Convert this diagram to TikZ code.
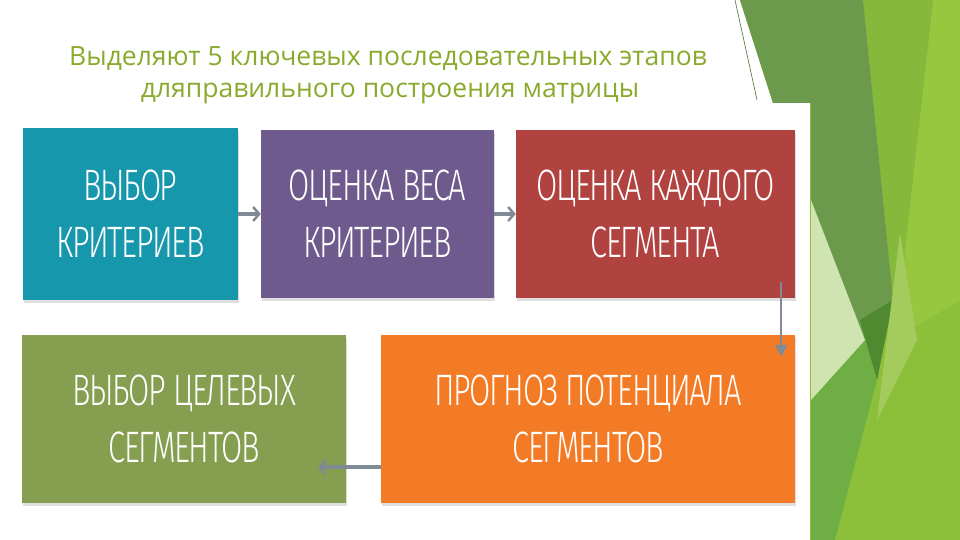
\documentclass[tikz,border=0pt]{standalone}
\usepackage{fontspec}
\usetikzlibrary{arrows.meta,calc,shadows}
\IfFontExistsTF{Fira Sans Light}
  {\newfontfamily\boxfont[FakeStretch=0.70,LetterSpace=-3]{Fira Sans Light}\newcommand\boxsize{\fontsize{44}{57}}}
  {\newfontfamily\boxfont[FakeStretch=0.59]{Liberation Sans}\newcommand\boxsize{\fontsize{42}{57}}}
\newfontfamily\titlefont{Open Sans}
\definecolor{ttl}{HTML}{8AAA2E}
\definecolor{cteal}{HTML}{1797AC}
\definecolor{cpurple}{HTML}{6E5A8C}
\definecolor{cred}{HTML}{B0433F}
\definecolor{corange}{HTML}{F47B25}
\definecolor{colive}{HTML}{869E50}
\definecolor{carrow}{HTML}{7F8A96}
\definecolor{gdark}{HTML}{6B9A4C}
\definecolor{gmid}{HTML}{86B83B}
\definecolor{gbright}{HTML}{97C63F}
\definecolor{gbase}{HTML}{8DC03A}
\definecolor{gpale}{HTML}{D0E4B2}
\definecolor{gpale2}{HTML}{A3CB5E}
\definecolor{glow}{HTML}{6EAE45}
\definecolor{gdeep}{HTML}{4F8A31}
\tikzset{
  stage/.style={inner sep=0pt, text=white, align=center,
    font=\boxfont\boxsize\selectfont,
    drop shadow={shadow xshift=0.5pt, shadow yshift=-3pt, opacity=0.25}},
  ttltext/.style={text=ttl, inner sep=0pt, anchor=base,
    font=\titlefont\fontsize{26.5}{32}\selectfont},
  arr/.style={draw=carrow, line width=3.5pt,
    -{Straight Barb[length=6pt,width=14pt,line width=2.5pt]}},
  arrv/.style={draw=carrow, line width=2.5pt,
    -{Triangle[length=12pt,width=12pt]}}
}
\begin{document}
\begin{tikzpicture}[x=1pt,y=-1pt]
\useasboundingbox (0,0) rectangle (960,540);
\fill[white] (0,0) rectangle (960,540);
% green decoration
\fill[gbase] (740,0) -- (960,0) -- (960,540) -- (810,540) -- (810,103) -- (773,103) -- cycle;
\fill[gbright] (933,0) -- (960,0) -- (960,300) -- (910,330) -- (905,250) -- cycle;
\fill[gmid] (863,0) -- (933,0) -- (905,250) -- (893,300) -- cycle;
\fill[gdark] (740,0) -- (863,0) -- (893,300) -- (877,380) -- (811,300) -- (811,103) -- (773,103) -- cycle;
\fill[gdeep] (860,320) -- (893,300) -- (877,380) -- cycle;
\fill[glow] (811,400) -- (865,340) -- (877,380) -- (835,540) -- (811,540) -- cycle;
\fill[gpale] (811,200) -- (865,340) -- (811,400) -- cycle;
\fill[gpale2] (900,233) -- (917,340) -- (877,420) -- cycle;
\draw[gdark!70!black, line width=0.6pt] (735,0) -- (757,100);
\fill[white] (700,103) rectangle (810,540);
% title
\node[ttltext] (t1) at (388,66) {Выделяют 5 ключевых последовательных этапов};
\node[ttltext] (t2) at (390,98) {дляправильного построения матрицы};
% boxes
\node[stage, fill=cteal, minimum width=215pt, minimum height=172pt] (b1) at (130.5,214) {ВЫБОР\\КРИТЕРИЕВ};
\node[stage, fill=cpurple, minimum width=233pt, minimum height=168pt] (b2) at (377.5,214) {ОЦЕНКА ВЕСА\\КРИТЕРИЕВ};
\node[stage, fill=cred, minimum width=279pt, minimum height=168pt] (b3) at (655.5,214) {ОЦЕНКА КАЖДОГО\\СЕГМЕНТА};
\node[stage, fill=colive, minimum width=324pt, minimum height=168pt] (b4) at (184,419) {ВЫБОР ЦЕЛЕВЫХ\\СЕГМЕНТОВ};
\node[stage, fill=corange, minimum width=414pt, minimum height=168pt] (b5) at (588,419) {ПРОГНОЗ ПОТЕНЦИАЛА\\СЕГМЕНТОВ};
% arrows
\draw[arr] (b1.east) -- (b2.west);
\draw[arr] (b2.east) -- (b3.west);
\draw[arrv] ($(b3.south east)+(-14,-16)$) -- ($(b5.north east)+(-14,22)$);
\draw[arr] ($(b5.west)+(0,48)$) -- ($(b4.east)+(-28,48)$);
\end{tikzpicture}
\end{document}
